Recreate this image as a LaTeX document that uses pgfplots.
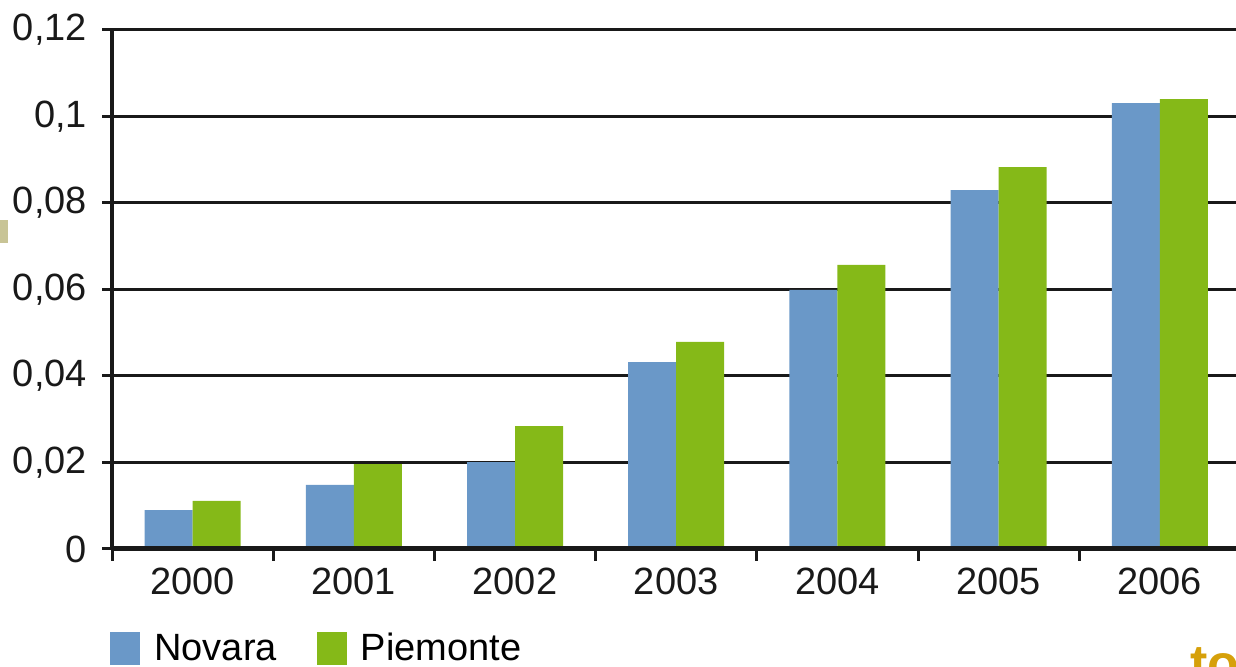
\documentclass[border=0pt]{standalone}
\usepackage{fontspec}
\setmainfont{Liberation Sans}
\usepackage{pgfplots}
\pgfplotsset{compat=1.18}
\definecolor{novara}{RGB}{106,152,200}
\definecolor{piem}{RGB}{133,185,24}
\definecolor{tanbox}{RGB}{200,196,150}
\definecolor{goldtxt}{RGB}{214,160,10}
\begin{document}
\begin{tikzpicture}
\path[use as bounding box, clip] (0,0) rectangle (618pt,333.5pt);
\fill[tanbox] (0,212pt) rectangle (4pt,223.5pt);
\node[anchor=north west, inner sep=0pt, text=goldtxt, font=\bfseries\fontsize{26pt}{30pt}\selectfont] at (595pt,10pt) {to};
\begin{axis}[
  at={(56pt,59pt)}, anchor=south west,
  scale only axis, width=564.2pt, height=259.5pt,
  xmin=-0.5, xmax=6.5, ymin=0, ymax=0.12,
  axis x line*=bottom, axis y line*=left,
  axis line style={line width=2pt, black!90},
  ybar=0pt, bar width=24pt,
  xtick={0,1,2,3,4,5,6},
  xticklabels={2000,2001,2002,2003,2004,2005,2006},
  minor xtick={-0.5,0.5,1.5,2.5,3.5,4.5,5.5,6.5},
  major x tick style={draw=none},
  minor x tick style={line width=1.5pt, black!90},
  ytick={0,0.02,0.04,0.06,0.08,0.1,0.12},
  yticklabels={0,{0,02},{0,04},{0,06},{0,08},{0,1},{0,12}},
  y tick style={line width=1.5pt, black!90},
  tick align=outside,
  major tick length=5pt, minor tick length=6pt,
  ymajorgrids, grid style={line width=1.5pt, black!90},
  tick label style={font=\fontsize{19pt}{22pt}\selectfont, black!90},
  xticklabel style={yshift=-1pt},
  yticklabel style={xshift=-4pt},
  legend style={at={(axis description cs:0,0)}, anchor=north west, xshift=-1pt, yshift=-40pt,
    draw=none, fill=none, legend columns=2, inner sep=0pt,
    font=\fontsize{19pt}{22pt}\selectfont,
    /tikz/every odd column/.append style={column sep=5pt},
    /tikz/every even column/.append style={column sep=18pt}},
  legend image code/.code={\fill[#1,draw=none] (0pt,-8pt) rectangle (15pt,8.5pt);},
]
\addplot[fill=novara, draw=none] coordinates {(0,0.0090) (1,0.0148) (2,0.0201) (3,0.0432) (4,0.0599) (5,0.0830) (6,0.1031)};
\addplot[fill=piem, draw=none] coordinates {(0,0.0111) (1,0.0196) (2,0.0284) (3,0.0479) (4,0.0657) (5,0.0883) (6,0.1040)};
\legend{Novara,Piemonte}
\draw[line width=3pt, black!90] (rel axis cs:0,0) -- (rel axis cs:1,0);
\end{axis}
\end{tikzpicture}
\end{document}
